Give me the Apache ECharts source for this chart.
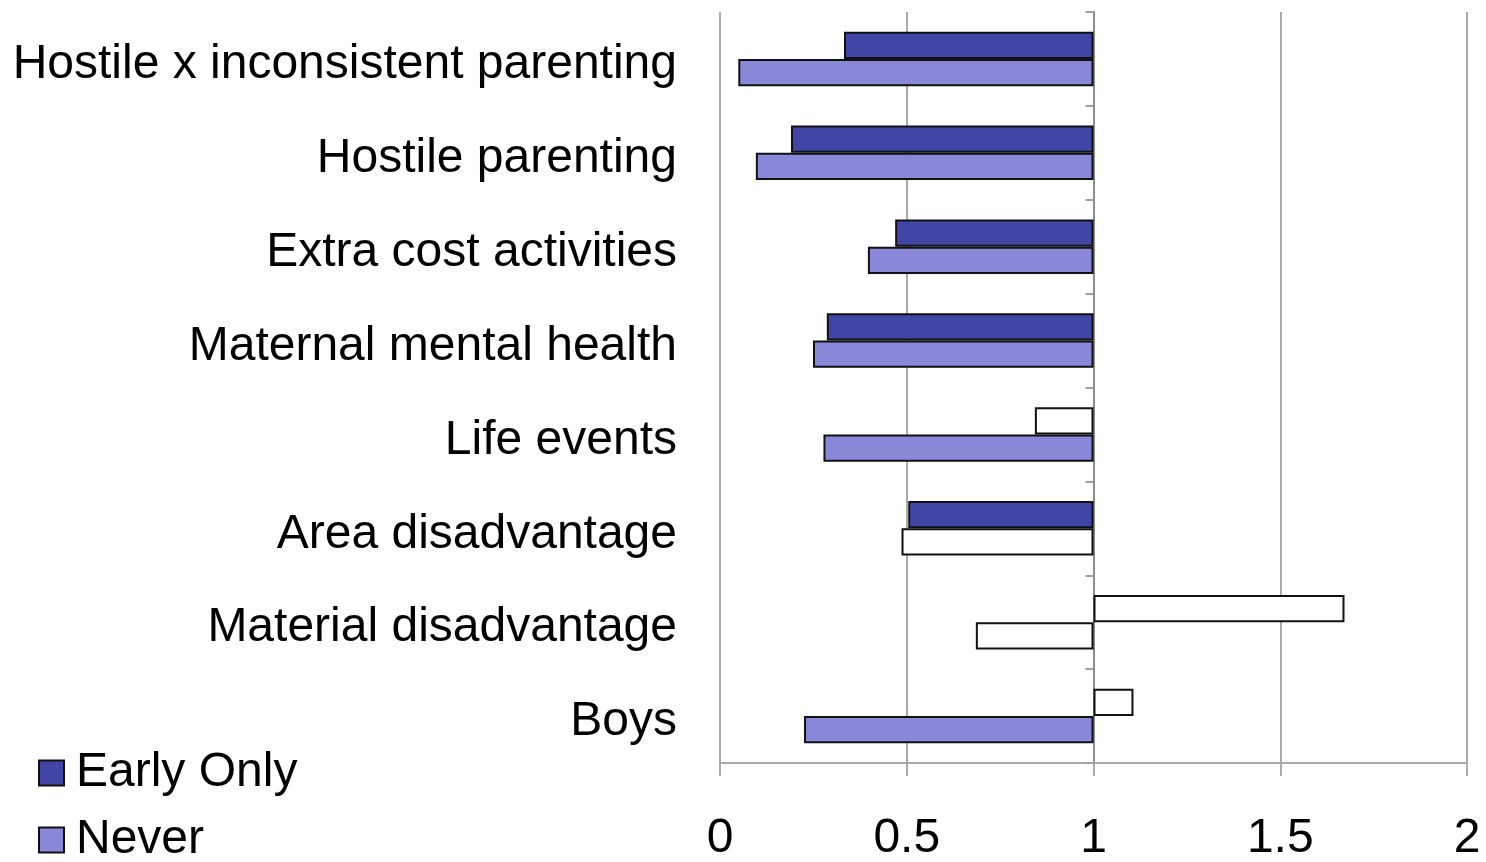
<!DOCTYPE html>
<html>
<head>
<meta charset="utf-8">
<script src="https://cdn.jsdelivr.net/npm/echarts@6/dist/echarts.min.js"></script>
<style>
html,body{margin:0;padding:0;background:#fff;}
#chart{width:1486px;height:862px;}
</style>
</head>
<body>
<div id="chart"></div>
<script>
const categories = [
  'Hostile x inconsistent parenting',
  'Hostile parenting',
  'Extra cost activities',
  'Maternal mental health',
  'Life events',
  'Area disadvantage',
  'Material disadvantage',
  'Boys'
];
const earlyOnly = [0.332, 0.190, 0.469, 0.286, 0.843, 0.504, 1.672, 1.107];
const never     = [0.049, 0.096, 0.396, 0.249, 0.277, 0.486, 0.685, 0.225];
const earlySignificant = [true, true, true, true, false, true, false, false];
const neverSignificant = [true, true, true, true, true, false, false, true];
const baseline = 1;

const EARLY_COLOR = '#4146A6';
const NEVER_COLOR = '#8789D8';
const FONT = 'Liberation Sans, Arial, Helvetica, sans-serif';

function baseData(vals) {
  return vals.map(v => Math.min(v, baseline));
}
function deltaData(vals, sig, color) {
  return vals.map((v, i) => ({
    value: Math.abs(v - baseline),
    itemStyle: { color: sig[i] ? color : '#ffffff' }
  }));
}

const chart = echarts.init(document.getElementById('chart'), null, { renderer: 'canvas' });

const gridLeft = 720, gridRight = 19;
const gridWidth = 1486 - gridLeft - gridRight;

const barCommon = {
  type: 'bar',
  barGap: '0%',
  barCategoryGap: '42%',
  animation: false
};

const legendCommon = {
  orient: 'vertical',
  left: 38,
  itemWidth: 25,
  itemHeight: 25,
  icon: 'rect',
  padding: 0,
  selectedMode: false,
  textStyle: { fontSize: 48, color: '#000', lineHeight: 46, fontFamily: FONT, padding: [0, 0, 0, 7] }
};

chart.setOption({
  animation: false,
  backgroundColor: '#ffffff',
  textStyle: { fontFamily: FONT },
  grid: { left: gridLeft, right: gridRight, top: 12, bottom: 99, containLabel: false, outerBoundsMode: 'none' },
  legend: [
    Object.assign({}, legendCommon, { data: ['Early Only'], top: 749 }),
    Object.assign({}, legendCommon, { data: ['Never'], top: 816 })
  ],
  xAxis: {
    type: 'value',
    min: 0,
    max: 2,
    interval: 0.5,
    axisLine: { show: true, lineStyle: { color: '#aaaaaa', width: 2 } },
    axisTick: { show: true, length: 13, lineStyle: { color: '#aaaaaa', width: 2 } },
    axisLabel: { fontSize: 48, color: '#000', margin: 52, fontFamily: FONT },
    splitLine: { show: true, lineStyle: { color: '#aaaaaa', width: 2 } }
  },
  yAxis: [
    {
      type: 'category',
      data: categories,
      inverse: true,
      position: 'left',
      axisLine: { show: false },
      axisTick: { show: false },
      axisLabel: {
        margin: 43,
        formatter: v => '{t|' + v + '}',
        rich: {
          t: { fontSize: 48, color: '#000', fontFamily: FONT, lineHeight: 48, padding: [12, 0, 0, 0] }
        }
      }
    },
    {
      type: 'category',
      data: categories,
      inverse: true,
      position: 'left',
      offset: -gridWidth / 2,
      axisLine: { show: true, lineStyle: { color: '#8c8c8c', width: 2 } },
      axisTick: { show: true, length: 8, lineStyle: { color: '#a0a0a0', width: 2 } },
      axisLabel: { show: false }
    }
  ],
  series: [
    Object.assign({}, barCommon, {
      name: 'earlyBase',
      stack: 'early',
      data: baseData(earlyOnly),
      itemStyle: { color: 'rgba(0,0,0,0)', borderWidth: 0 },
      emphasis: { disabled: true },
      silent: true
    }),
    Object.assign({}, barCommon, {
      name: 'Early Only',
      stack: 'early',
      data: deltaData(earlyOnly, earlySignificant, EARLY_COLOR),
      itemStyle: { color: EARLY_COLOR, borderColor: '#111111', borderWidth: 2 },
      emphasis: { disabled: true }
    }),
    Object.assign({}, barCommon, {
      name: 'neverBase',
      stack: 'never',
      data: baseData(never),
      itemStyle: { color: 'rgba(0,0,0,0)', borderWidth: 0 },
      emphasis: { disabled: true },
      silent: true
    }),
    Object.assign({}, barCommon, {
      name: 'Never',
      stack: 'never',
      data: deltaData(never, neverSignificant, NEVER_COLOR),
      itemStyle: { color: NEVER_COLOR, borderColor: '#111111', borderWidth: 2 },
      emphasis: { disabled: true }
    })
  ]
});
</script>
</body>
</html>
